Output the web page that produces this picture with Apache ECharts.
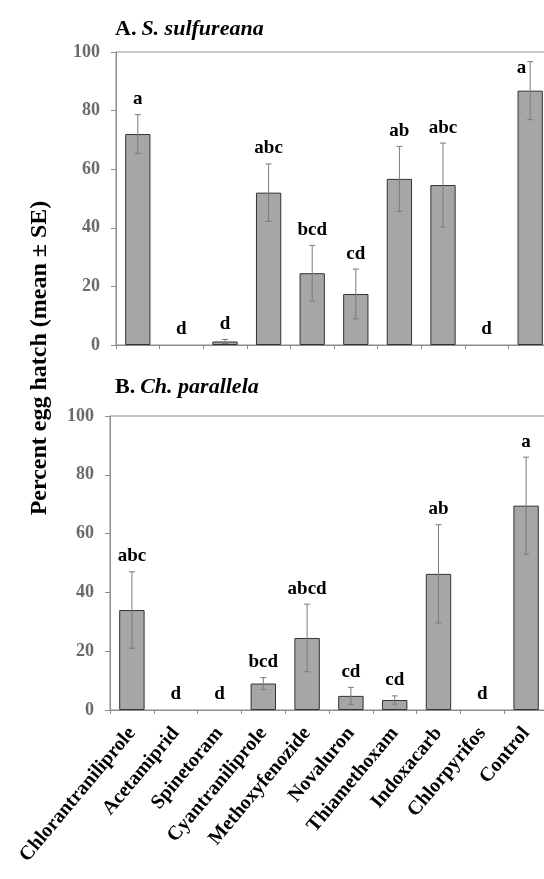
<!DOCTYPE html>
<html>
<head>
<meta charset="utf-8">
<script src="https://cdn.jsdelivr.net/npm/echarts@6/dist/echarts.min.js"></script>
<style>
  html, body { margin: 0; padding: 0; background: #ffffff; }
  #chart { width: 544px; height: 879px; }
</style>
</head>
<body>
<div id="chart"></div>
<script>
// categories (insecticide treatments)
const treatments = ["Chlorantraniliprole", "Acetamiprid", "Spinetoram", "Cyantraniliprole",
  "Methoxyfenozide", "Novaluron", "Thiamethoxam", "Indoxacarb", "Chlorpyrifos", "Control"];

// A. S. sulfureana
const hatchA = [72, 0, 1.2, 52, 24.5, 17.4, 56.7, 54.6, 0, 86.8];
const seA = [6.6, 0, 0.7, 9.8, 9.5, 8.5, 11.1, 14.3, 0, 9.9];
const lettersA = ["a", "d", "d", "abc", "bcd", "cd", "ab", "abc", "d", "a"];

// B. Ch. parallela
const hatchB = [34, 0, 0, 9, 24.5, 4.8, 3.4, 46.3, 0, 69.5];
const seB = [13, 0, 0, 2, 11.5, 2.9, 1.4, 16.7, 0, 16.5];
const lettersB = ["abc", "d", "d", "bcd", "abcd", "cd", "cd", "ab", "d", "a"];

const yTicks = [0, 20, 40, 60, 80, 100];

const serif = '"Liberation Serif", "Times New Roman", serif';
const gray = "#8c8c8c";

const myChart = echarts.init(document.getElementById("chart"));

function barSeries(idx, values) {
  return {
    type: "bar",
    xAxisIndex: idx,
    yAxisIndex: idx,
    barWidth: "58%",
    silent: true,
    data: values.map(function (v) {
      // no outline on empty bars
      return v === 0 ? { value: v, itemStyle: { borderWidth: 0 } } : v;
    }),
    itemStyle: { color: "#a6a6a6", borderColor: "#333333", borderWidth: 1 },
  };
}

// error bars + significance letters
function errorSeries(idx, means, ses, letters) {
  return {
    type: "custom",
    xAxisIndex: idx,
    yAxisIndex: idx,
    z: 5,
    silent: true,
    data: means.map(function (m, i) { return [i, m, ses[i]]; }),
    renderItem: function (params, api) {
      const i = api.value(0);
      const m = api.value(1);
      const se = api.value(2);
      const top = api.coord([i, m + se]);
      const bot = api.coord([i, Math.max(m - se, 0)]);
      const children = [];
      const ls = { stroke: "#7a7a7a", lineWidth: 1 };
      if (se > 0) {
        children.push({ type: "line", shape: { x1: top[0], y1: top[1], x2: bot[0], y2: bot[1] }, style: ls });
        children.push({ type: "line", shape: { x1: top[0] - 3, y1: top[1], x2: top[0] + 3, y2: top[1] }, style: ls });
        children.push({ type: "line", shape: { x1: bot[0] - 3, y1: bot[1], x2: bot[0] + 3, y2: bot[1] }, style: ls });
      }
      const txt = { text: letters[params.dataIndex], font: "bold 19px " + serif, fill: "#000" };
      if (m + se > 92) {
        // not enough room above: put it beside the error bar
        children.push({ type: "text", x: top[0] - 4, y: top[1] + 6,
          style: Object.assign(txt, { align: "right", verticalAlign: "middle" }) });
      } else {
        children.push({ type: "text", x: top[0], y: top[1] - 6,
          style: Object.assign(txt, { align: "center", verticalAlign: "bottom" }) });
      }
      return { type: "group", children: children };
    },
  };
}

function xAxis(idx, showLabels) {
  return {
    type: "category",
    gridIndex: idx,
    data: treatments,
    axisLine: { lineStyle: { color: gray } },
    axisTick: { show: true, length: 4, lineStyle: { color: gray } },
    axisLabel: {
      show: showLabels,
      interval: 0,
      rotate: 50,
      margin: 20,
      color: "#000",
      fontFamily: serif,
      fontWeight: "bold",
      fontSize: 20,
    },
  };
}

function yAxis(idx) {
  return {
    type: "value",
    gridIndex: idx,
    min: yTicks[0],
    max: yTicks[yTicks.length - 1],
    interval: yTicks[1] - yTicks[0],
    axisLine: { show: true, lineStyle: { color: gray } },
    axisTick: { show: true, length: 5, lineStyle: { color: gray } },
    splitLine: { show: false },
    axisLabel: { color: "#6a6a6a", fontFamily: serif, fontWeight: "bold", fontSize: 18, margin: 16 },
  };
}

const titleRich = {
  b: { fontFamily: serif, fontWeight: "bold", fontSize: 22, color: "#000" },
  i: { fontFamily: serif, fontStyle: "italic", fontSize: 22, color: "#000" },
};

const option = {
  animation: false,
  backgroundColor: "#ffffff",
  title: [
    { left: 110, top: 13, text: "{b|A.} {i|S. sulfureana}", textStyle: { rich: titleRich } },
    { left: 110, top: 371, text: "{b|B.} {i|Ch. parallela}", textStyle: { rich: titleRich } },
  ],
  grid: [
    { left: 116, top: 52, width: 436, height: 293, show: true, borderColor: gray, borderWidth: 1,
      outerBoundsMode: "none" },
    { left: 110, top: 416, width: 438, height: 294, show: true, borderColor: gray, borderWidth: 1,
      outerBoundsMode: "none" },
  ],
  xAxis: [xAxis(0, false), xAxis(1, true)],
  yAxis: [yAxis(0), yAxis(1)],
  graphic: [
    {
      type: "text",
      x: 40,
      y: 358,
      rotation: Math.PI / 2,
      style: {
        text: "Percent egg hatch (mean \u00b1 SE)",
        font: "bold 24px " + serif,
        fill: "#000",
        align: "center",
        verticalAlign: "middle",
      },
    },
  ],
  series: [
    barSeries(0, hatchA),
    errorSeries(0, hatchA, seA, lettersA),
    barSeries(1, hatchB),
    errorSeries(1, hatchB, seB, lettersB),
  ],
};

myChart.setOption(option);
</script>
</body>
</html>
